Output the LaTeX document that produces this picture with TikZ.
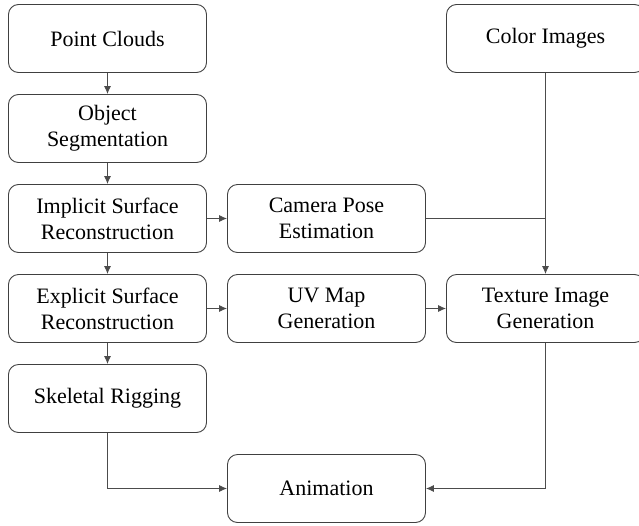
\documentclass[tikz,border=0pt]{standalone}
\usepackage{fontspec}
\newfontfamily\boxfont{Liberation Serif}
\usepackage{tikz}
\usetikzlibrary{arrows.meta}
\tikzstyle{process} = [rectangle, rounded corners=10pt, minimum width=198pt, minimum height=68pt, text centered, align=center, draw=black!75, line width=0.9pt, font=\boxfont\fontsize{22}{26}\selectfont, execute at begin node={\vspace*{6pt}}]
\tikzstyle{line} = [draw=black!70, line width=0.9pt]
\tikzstyle{arrow} = [line, ->, >={Latex[length=8pt,width=7pt]}]

\begin{document}
\begin{tikzpicture}[x=1pt, y=1pt, node distance=90pt]
\useasboundingbox (0,0) rectangle (639,-525);

\node (in1) [process] at (107.5,-38.5) {Point Clouds};
\node (pro1) [process, below of=in1] {Object\\Segmentation};
\node (pro2) [process, below of=pro1] {Implicit Surface\\Reconstruction};
\node (pro3) [process, below of=pro2] {Explicit Surface\\Reconstruction};
\node (pro4) [process, below of=pro3] {Skeletal Rigging};
\node (cam) [process, right of=pro2, node distance=219pt] {Camera Pose\\Estimation};
\node (uv) [process, right of=pro3, node distance=219pt] {UV Map\\Generation};
\node (tex) [process, right of=uv, node distance=219pt] {Texture Image\\Generation};
\node (in2) [process, right of=in1, node distance=438pt] {Color Images};
\node (anim) [process, below of=uv, node distance=180pt] {Animation};
\coordinate (join) at (in2 |- cam); % where the pose line meets

\draw [arrow] (in1) -- (pro1);
\draw [arrow] (pro1) -- (pro2);
\draw [arrow] (pro2) -- (pro3);
\draw [arrow] (pro3) -- (pro4);
\draw [arrow] (pro2) -- (cam);
\draw [arrow] (pro3) -- (uv);
\draw [arrow] (uv) -- (tex);
\draw [arrow] (in2) -- (tex);
\draw [line] (cam) -- (join);
\draw [arrow] (pro4) |- (anim);
\draw [arrow] (tex) |- (anim);

\end{tikzpicture}
\end{document}
